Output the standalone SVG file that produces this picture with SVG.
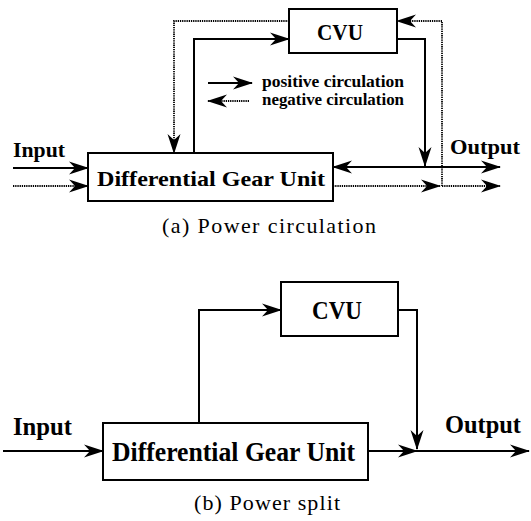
<svg xmlns="http://www.w3.org/2000/svg" width="531" height="521" viewBox="0 0 531 521">
<style>
.box{fill:#fff;stroke:#000;stroke-width:2}
.sl{fill:none;stroke:#000;stroke-width:2}
.dl{fill:none;stroke:#000;stroke-width:1.8;stroke-dasharray:1.3 0.9}
.lb{font-family:"Liberation Serif","Times New Roman",serif;font-weight:bold;fill:#000}
.cap{font-family:"Liberation Serif","Times New Roman",serif;fill:#000}
</style>
<defs>
<marker id="ah" markerUnits="userSpaceOnUse" markerWidth="20" markerHeight="14" refX="19" refY="7" orient="auto" viewBox="0 0 20 14">
<path d="M0,0.5 L20,7 L0,13.5 L6,7 Z" fill="#000"/>
</marker>
</defs>
<rect width="531" height="521" fill="#fff"/>
<g id="connectors">
<line class="sl" x1="13" y1="168" x2="88" y2="168" marker-end="url(#ah)"/>
<line class="dl" x1="13" y1="186" x2="88" y2="186" marker-end="url(#ah)"/>
<polyline class="sl" points="194,153 194,39 289,39" marker-end="url(#ah)"/>
<polyline class="dl" points="289,21 174,21 174,153" marker-end="url(#ah)"/>
<polyline class="sl" points="397,39 425,39 425,166" marker-end="url(#ah)"/>
<polyline class="dl" points="442,186 442,21 397,21" marker-end="url(#ah)"/>
<line class="sl" x1="425" y1="167" x2="333" y2="167" marker-end="url(#ah)"/>
<line class="sl" x1="425" y1="167" x2="500" y2="167" marker-end="url(#ah)"/>
<line class="dl" x1="333" y1="186" x2="440" y2="186" marker-end="url(#ah)"/>
<line class="dl" x1="442" y1="186" x2="500" y2="186" marker-end="url(#ah)"/>
<line class="sl" x1="208" y1="83" x2="252" y2="83" marker-end="url(#ah)"/>
<line class="dl" x1="249" y1="101" x2="208" y2="101" marker-end="url(#ah)"/>
<line class="sl" x1="3" y1="451" x2="103" y2="451" marker-end="url(#ah)"/>
<polyline class="sl" points="199,423 199,310 281,310" marker-end="url(#ah)"/>
<polyline class="sl" points="398,310 417,310 417,449" marker-end="url(#ah)"/>
<line class="sl" x1="368" y1="451" x2="417" y2="451" marker-end="url(#ah)"/>
<line class="sl" x1="417" y1="451" x2="529" y2="451" marker-end="url(#ah)"/>
</g>
<g id="cvu-a">
<rect class="box" x="289" y="9" width="108" height="44"/>
<text class="lb" x="317" y="40" font-size="23" textLength="46" lengthAdjust="spacingAndGlyphs">CVU</text>
</g>
<g id="dgu-a">
<rect class="box" x="88" y="153" width="245" height="48"/>
<text class="lb" x="97" y="186" font-size="22" textLength="228" lengthAdjust="spacingAndGlyphs">Differential Gear Unit</text>
</g>
<g id="labels-a">
<text class="lb" x="13" y="157" font-size="22" textLength="52" lengthAdjust="spacingAndGlyphs">Input</text>
<text class="lb" x="450" y="154" font-size="22" textLength="70" lengthAdjust="spacingAndGlyphs">Output</text>
<text class="lb" x="262" y="87" font-size="16" textLength="142" lengthAdjust="spacingAndGlyphs">positive circulation</text>
<text class="lb" x="262" y="105" font-size="16" textLength="142" lengthAdjust="spacingAndGlyphs">negative circulation</text>
<text class="cap" x="162" y="233" font-size="22" textLength="214" lengthAdjust="spacing">(a) Power circulation</text>
</g>
<g id="cvu-b">
<rect class="box" x="281" y="282" width="117" height="54"/>
<text class="lb" x="312" y="319" font-size="25" textLength="50" lengthAdjust="spacingAndGlyphs">CVU</text>
</g>
<g id="dgu-b">
<rect class="box" x="103" y="423" width="265" height="57"/>
<text class="lb" x="112" y="461" font-size="27" textLength="243" lengthAdjust="spacingAndGlyphs">Differential Gear Unit</text>
</g>
<g id="labels-b">
<text class="lb" x="13" y="435" font-size="25" textLength="59" lengthAdjust="spacingAndGlyphs">Input</text>
<text class="lb" x="445" y="433" font-size="25" textLength="76" lengthAdjust="spacingAndGlyphs">Output</text>
<text class="cap" x="194" y="510" font-size="22" textLength="146" lengthAdjust="spacing">(b) Power split</text>
</g>
</svg>
